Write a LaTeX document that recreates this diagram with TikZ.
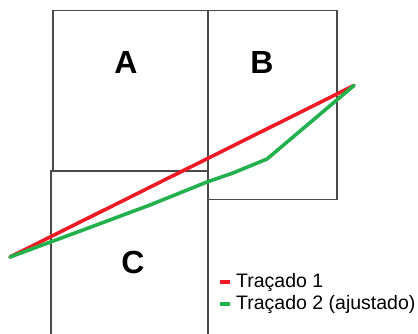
\documentclass[tikz,border=0pt]{standalone}
\usepackage{fontspec}
\setmainfont{Liberation Sans}
\definecolor{pred}{HTML}{ED1C24}
\definecolor{pgreen}{HTML}{22B14C}
\definecolor{boxgray}{HTML}{4A4A4A}
\begin{document}
\begin{tikzpicture}[x=1pt,y=-1pt,
  boxline/.style={draw=boxgray,line width=1.1pt},
  letter/.style={font=\fontsize{32}{36}\selectfont\bfseries,inner sep=0pt},
  trace/.style={line width=3.6pt,line cap=round,line join=round},
  legtext/.style={font=\fontsize{19.5}{22}\selectfont,anchor=base west,inner sep=0pt},
  legmark/.style={line width=3.6pt}]
\useasboundingbox (0,0) rectangle (418,334);
% boxes
\draw[boxline] (53,10.7) rectangle (208,171);
\draw[boxline] (208,10.7) rectangle (337,199.5);
\draw[boxline] (51,334) |- (208,171) -- (208,334);
% labels
\node[letter] (la) at (126,62) {A};
\node[letter] (lb) at (262,62) {B};
\node[letter] (lc) at (133,262) {C};
% traces
\coordinate (s) at (10,257);
\coordinate (e) at (354,85.5);
\coordinate (g1) at (83,230);
\coordinate (g2) at (150,205);
\coordinate (g3) at (207,182);
\coordinate (g4) at (233,173);
\coordinate (g5) at (267,159);
\draw[trace,pred] (s) -- (e);
\draw[trace,pgreen] (s) -- (g1) -- (g2) -- (g3) -- (g4) -- (g5) -- (e);
% legend
\node[legtext] (t1) at (236,287.5) {Traçado 1};
\node[legtext] (t2) at (236,309.5) {Traçado 2 (ajustado)};
\coordinate (m1a) at (220,282);
\coordinate (m1b) at (229.5,282);
\coordinate (m2a) at (220,304);
\coordinate (m2b) at (229.5,304);
\draw[legmark,pred] (m1a) -- (m1b);
\draw[legmark,pgreen] (m2a) -- (m2b);
\end{tikzpicture}
\end{document}
